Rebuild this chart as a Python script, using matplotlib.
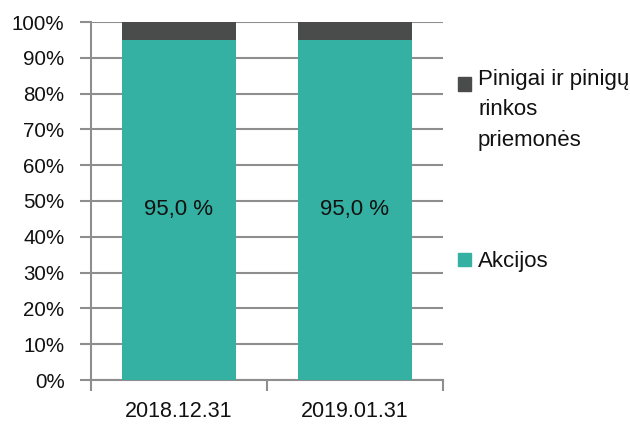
import matplotlib
matplotlib.use("Agg")
import matplotlib.pyplot as plt
from matplotlib.patches import Rectangle
from matplotlib.ticker import FixedLocator, PercentFormatter

categories = ["2018.12.31", "2019.01.31"]
akcijos = [95.0, 95.0]
pinigai = [5.0, 5.0]
series_names = ["Akcijos", "Pinigai ir pinigų\nrinkos\npriemonės"]
y_ticks = [0, 10, 20, 30, 40, 50, 60, 70, 80, 90, 100]

teal = "#34B1A3"
dark = "#4A4C4B"
grid_c = "#8E8E8E"
txt = "#111111"

plt.rcParams['font.family'] = ['Liberation Sans', 'DejaVu Sans']

fig = plt.figure(figsize=(6.3, 4.24), dpi=100)
ax = fig.add_axes([91/630, 44/424, 352/630, 358/424])

x = list(range(len(categories)))
b1 = ax.bar(x, akcijos, width=0.65, color=teal, zorder=3)
b2 = ax.bar(x, pinigai, width=0.65, bottom=akcijos, color=dark, zorder=3)

for xi, v in zip(x, akcijos):
    ax.text(xi, v / 2, f"{v:.1f} %".replace(".", ","), ha="center", va="center",
            fontsize=16, color=txt, zorder=4)

ax.set_xlim(-0.5, len(categories) - 0.5)
ax.set_ylim(0, 100)
ax.set_yticks(y_ticks)
ax.yaxis.set_major_formatter(PercentFormatter(decimals=0))
ax.set_xticks(x)
ax.set_xticklabels(categories)
ax.xaxis.set_minor_locator(FixedLocator([i - 0.5 for i in range(len(categories) + 1)]))
ax.tick_params(axis="x", which="major", length=0, labelsize=15.5, pad=15, colors=txt)
ax.tick_params(axis="x", which="minor", length=8, width=1.5, color=grid_c)
ax.tick_params(axis="y", which="major", length=8, width=1.5, color=grid_c, labelsize=14.8,
               pad=11, labelcolor=txt)

ax.yaxis.grid(True, color=grid_c, linewidth=1.5, zorder=0)
ax.set_axisbelow(True)
for s in ["top", "right"]:
    ax.spines[s].set_visible(False)
for s in ["left", "bottom"]:
    ax.spines[s].set_color(grid_c)
    ax.spines[s].set_linewidth(1.5)

# legend (manual, to match layout)
W, H = 630, 424
sq = 13
entries = [(series_names[1], dark, 84, 69), (series_names[0], teal, 259, 251)]
for label, col, ysq, ytop in entries:
    fig.patches.append(Rectangle((458 / W, (H - ysq - sq / 2) / H), sq / W, sq / H,
                                 transform=fig.transFigure, color=col, figure=fig))
    fig.text(478 / W, (H - ytop) / H, label, ha="left", va="top", fontsize=16,
             color=txt, linespacing=1.59)

fig.savefig("out.png", dpi=100)
